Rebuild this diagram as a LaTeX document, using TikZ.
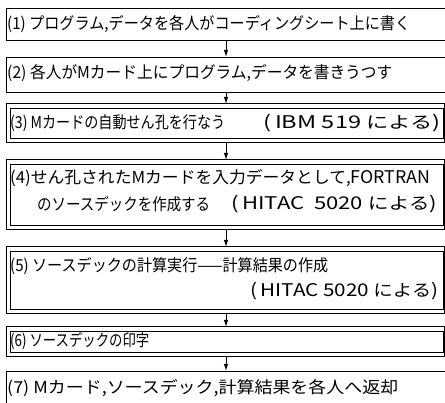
\documentclass[tikz,border=0pt]{standalone}
\usepackage{fontspec}
\setmainfont{Noto Sans CJK JP}
\usetikzlibrary{arrows.meta}
\newcommand{\lt}[1]{{\fontsize{17.5}{19}\selectfont #1}}
\newcommand{\fitw}[2]{\resizebox{#1pt}{\height}{#2}}
\begin{document}
\begin{tikzpicture}[x=1pt,y=-1pt,
  box/.style={draw, line width=1pt, rectangle, inner sep=0pt, anchor=north west},
  outer/.style={line width=1pt},
  txt/.style={anchor=west, inner sep=0pt, font=\fontsize{16.5}{18}\selectfont},
  arr/.style={-{Latex[length=7pt,width=4.5pt]}, line width=1pt}]
\useasboundingbox (0,0) rectangle (445,403);
\clip (0,0) rectangle (445,403);
% single boxes (open at the right / bottom edge of the picture)
\node[box, minimum width=460pt, minimum height=32pt] (b1) at (6,8) {};
\node[box, minimum width=460pt, minimum height=35pt] (b2) at (6,57) {};
\node[box, minimum width=460pt, minimum height=60pt] (b7) at (6,371) {};
% double-framed boxes: inner frame as node, outer frame around it
\node[box, minimum width=433pt, minimum height=30pt] (b3) at (10,108) {};
\node[box, minimum width=433pt, minimum height=61pt] (b4) at (10,164) {};
\node[box, minimum width=433pt, minimum height=58pt] (b5) at (10,251) {};
\node[box, minimum width=433pt, minimum height=21pt] (b6) at (10,331) {};
\foreach \b in {b3,b4,b5,b6}
  \draw[outer] ([shift={(-4pt,4pt)}]\b.north west) rectangle ([yshift=-4pt]\b.south east);
% texts
\node[txt] (t1) at (7,24) {\fitw{403}{(1) プログラム,データを各人がコーディングシート上に書く}};
\node[txt] (t2) at (7,73) {\fitw{385}{(2) 各人がMカード上にプログラム,データを書きうつす}};
\node[txt] (t3) at (10,123) {\fitw{215}{(3) Mカードの自動せん孔を行なう}};
\node[txt] (t3r) at (263,123) {\fitw{177}{\lt{(\,IBM 519} による\lt{)}}};
\node[txt] (t4) at (10,178) {\fitw{420}{(4)せん孔されたMカードを入力データとして,\lt{FORTRAN}}};
\node[txt] (t4b) at (37,204) {\fitw{173}{のソースデックを作成する}};
\node[txt] (t4r) at (231,204) {\fitw{206}{\lt{(\,HITAC\ \ 5020} による\lt{)}}};
\node[txt] (t5) at (10,266) {\fitw{318}{(5) ソースデックの計算実行——計算結果の作成}};
\node[txt] (t5r) at (250,291) {\fitw{188}{\lt{(\,HITAC 5020} による\lt{)}}};
\node[txt] (t6) at (10,341.5) {\fitw{139}{(6) ソースデックの印字}};
\node[txt] (t7) at (7,388) {\fitw{391}{(7) Mカード,ソースデック,計算結果を各人へ返却}};
% arrows
\coordinate (ax) at (226,0);
\draw[arr] (b1.south -| ax) -- (b2.north -| ax);
\draw[arr] (b2.south -| ax) -- ([yshift=4pt]b3.north -| ax);
\draw[arr] ([yshift=-4pt]b3.south -| ax) -- ([yshift=4pt]b4.north -| ax);
\draw[arr] ([yshift=-4pt]b4.south -| ax) -- ([yshift=4pt]b5.north -| ax);
\draw[arr] ([yshift=-4pt]b5.south -| ax) -- ([yshift=4pt]b6.north -| ax);
\draw[arr] ([yshift=-4pt]b6.south -| ax) -- (b7.north -| ax);
\end{tikzpicture}
\end{document}
